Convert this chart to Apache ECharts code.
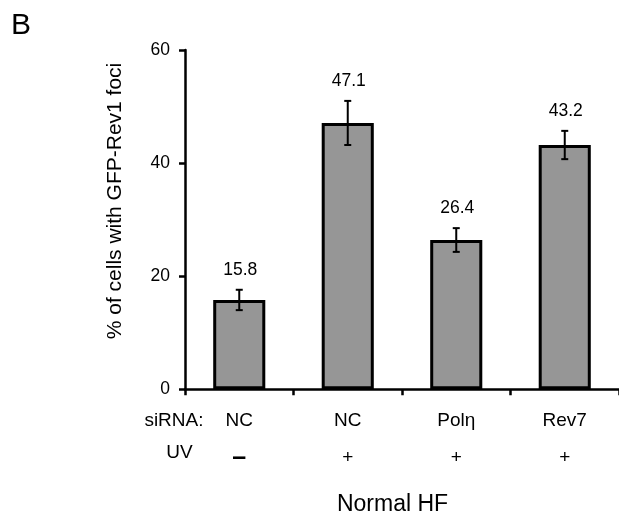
<!DOCTYPE html>
<html><head><meta charset="utf-8">
<script src="https://cdn.jsdelivr.net/npm/echarts@6/dist/echarts.min.js"></script>
<style>html,body{margin:0;padding:0;background:#fff}#c{width:619px;height:520px}</style>
</head><body><div id="c"></div>
<script>
// ---- data ----
const categories = ['NC', 'NC', 'Polη', 'Rev7'];
const uvLabels = ['–', '+', '+', '+'];
const values = [15.8, 47.1, 26.4, 43.2];
const errors = [1.8, 3.9, 2.1, 2.5];
const yTicks = [0, 20, 40, 60];
const rowLabels = ['siRNA:', 'UV'];
const groupLabel = 'Normal HF';
const panelLabel = 'B';
const yTitle = '% of cells with GFP-Rev1 foci';

const FONT = '"Liberation Sans", Arial, Helvetica, sans-serif';
const chart = echarts.init(document.getElementById('c'), null, {renderer: 'canvas'});

const option = {
  animation: false,
  backgroundColor: '#fff',
  grid: {left: 185, top: 50, width: 438, height: 339.3, containLabel: false},
  xAxis: [{
    type: 'category', data: categories, position: 'bottom',
    axisLine: {show: true, lineStyle: {color: '#000', width: 2.5}},
    axisTick: {show: true, length: 6, lineStyle: {color: '#000', width: 2.5}},
    axisLabel: {margin: 22, color: '#000', fontSize: 19, fontFamily: FONT},
    splitLine: {show: false}
  }, {
    type: 'category', data: uvLabels, position: 'bottom',
    axisLine: {show: false}, axisTick: {show: false}, splitLine: {show: false},
    axisLabel: {
      margin: 59, color: '#000', fontFamily: FONT,
      formatter: v => v === '–' ? '{d|' + v + '}' : '{p|' + v + '}',
      rich: {
        d: {fontSize: 25, fontWeight: 'bold', lineHeight: 19, fontFamily: FONT, color: '#000'},
        p: {fontSize: 19, lineHeight: 19, fontFamily: FONT, color: '#000'}
      }
    }
  }],
  yAxis: {
    type: 'value', min: yTicks[0], max: yTicks[yTicks.length - 1], interval: yTicks[1] - yTicks[0],
    axisLine: {show: true, lineStyle: {color: '#000', width: 2.5}},
    axisTick: {show: true, length: 6, lineStyle: {color: '#000', width: 2.5}},
    axisLabel: {margin: 15, color: '#000', fontSize: 17.5, fontFamily: FONT},
    splitLine: {show: false}
  },
  series: [{
    type: 'bar', data: values, xAxisIndex: 0, barWidth: '48%',
    itemStyle: {color: '#969696', borderColor: '#000', borderWidth: 3},
    z: 2
  }, {
    type: 'custom', xAxisIndex: 0, z: 5,
    data: values.map((v, i) => [i, v, errors[i]]),
    renderItem: function (params, api) {
      const i = api.value(0), v = api.value(1), e = api.value(2);
      const t = api.coord([i, v + e]);
      const b = api.coord([i, v - e]);
      const x = t[0], hw = 3.5;
      const ls = {stroke: '#000', lineWidth: 2};
      return {type: 'group', children: [
        {type: 'line', shape: {x1: x, y1: t[1], x2: x, y2: b[1]}, style: ls},
        {type: 'line', shape: {x1: x - hw, y1: t[1], x2: x + hw, y2: t[1]}, style: ls},
        {type: 'line', shape: {x1: x - hw, y1: b[1], x2: x + hw, y2: b[1]}, style: ls},
        {type: 'text', style: {text: v.toFixed(1), x: x + 1, y: t[1] - 10.5, align: 'center', verticalAlign: 'bottom',
          fontSize: 17.5, fontFamily: FONT, fill: '#000'}}
      ]};
    }
  }],
  graphic: [
    {type: 'text', left: null, x: 11, y: 26, style: {text: panelLabel, fontSize: 30, fontFamily: FONT, fill: '#000', align: 'left', verticalAlign: 'middle'}},
    {type: 'text', x: 203.5, y: 420.7, style: {text: rowLabels[0], fontSize: 19, fontFamily: FONT, fill: '#000', align: 'right', verticalAlign: 'middle'}},
    {type: 'text', x: 179.5, y: 452.6, style: {text: rowLabels[1], fontSize: 19, fontFamily: FONT, fill: '#000', align: 'center', verticalAlign: 'middle'}},
    {type: 'text', x: 392.5, y: 504.5, style: {text: groupLabel, fontSize: 23, fontFamily: FONT, fill: '#000', align: 'center', verticalAlign: 'middle'}},
    {type: 'text', x: 115.5, y: 201, rotation: Math.PI / 2, style: {text: yTitle, fontSize: 21, fontFamily: FONT, fill: '#000', align: 'center', verticalAlign: 'middle'}}
  ]
};
chart.setOption(option);
</script>
</body></html>
